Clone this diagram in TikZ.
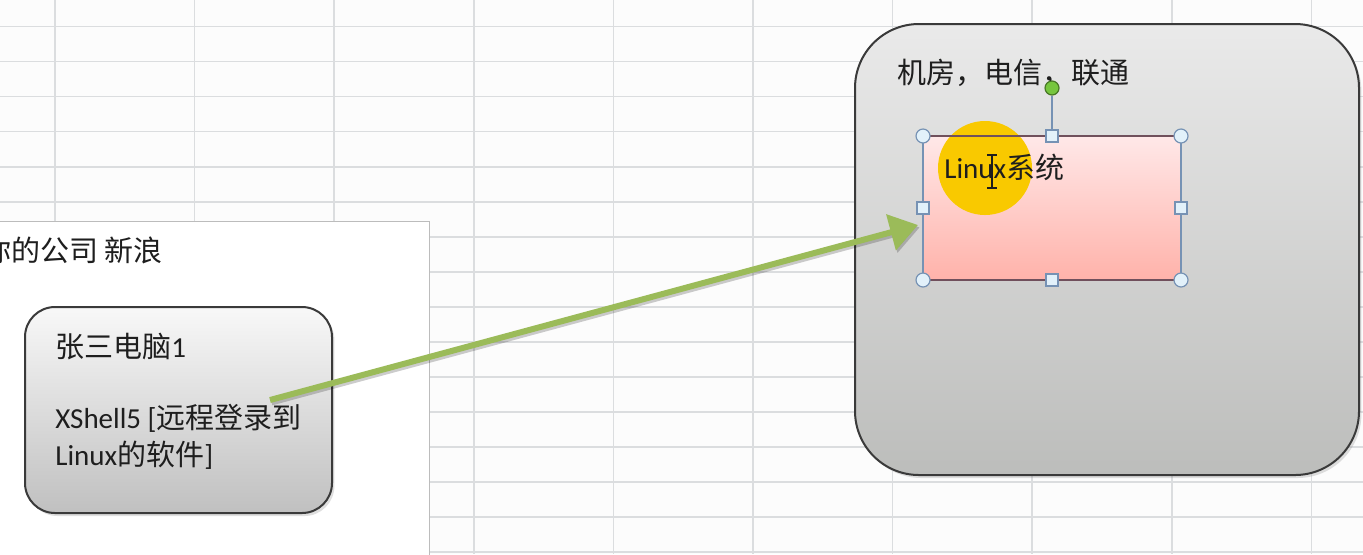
\documentclass[tikz,border=0pt]{standalone}
\usepackage{fontspec}
\usepackage{tikz}
\usetikzlibrary{arrows.meta,shadows}
\setmainfont{Carlito}
\newfontfamily\cjk{Noto Sans CJK SC}
\definecolor{grade}{RGB}{219,221,223}
\definecolor{fundo}{RGB}{252,252,252}
\definecolor{bordaempresa}{RGB}{188,188,188}
\definecolor{borda}{RGB}{58,58,58}
\definecolor{pctopo}{RGB}{248,248,248}
\definecolor{pcbase}{RGB}{192,192,192}
\definecolor{salatopo}{RGB}{234,234,234}
\definecolor{salabase}{RGB}{188,189,187}
\definecolor{rosatopo}{RGB}{255,232,232}
\definecolor{rosabase}{RGB}{255,178,170}
\definecolor{bordarosa}{RGB}{112,80,92}
\definecolor{selecao}{RGB}{118,146,180}
\definecolor{verde}{RGB}{155,187,89}
\definecolor{amarelo}{RGB}{249,201,0}
\definecolor{alcafundo}{RGB}{226,241,250}
\definecolor{alcaverde}{RGB}{118,198,62}
\definecolor{texto}{RGB}{30,30,30}

\begin{document}
\begin{tikzpicture}[x=0.5pt,y=-0.5pt,
		caixa/.style={draw=borda, line width=1pt, rounded corners=#1, inner sep=0pt, outer sep=0pt,
			drop shadow={shadow xshift=1.2pt, shadow yshift=-1.5pt, opacity=0.25}},
		rotulo/.style={anchor=west, inner sep=0pt, text=texto, align=left,
			font=\fontsize{14.5}{18.5}\selectfont},
		alca/.style={circle, draw=selecao, fill=alcafundo, line width=0.6pt, minimum size=7pt, inner sep=0pt},
		alcaq/.style={rectangle, draw=selecao, fill=alcafundo, line width=0.6pt, minimum size=6pt, inner sep=0pt},
		seta/.style={draw=verde, line width=3pt, -{Triangle[length=14pt,width=18pt]}}]
			%Fundo e grade
			\useasboundingbox (0,0) rectangle (1363,554);
			\clip (0,0) rectangle (1363,554);
			\fill[fundo] (0,0) rectangle (1363,554);
			\foreach \i in {0,...,9}
				\draw[grade, line width=0.8pt] (55+139.6*\i,0) -- (55+139.6*\i,554);
			\foreach \j in {0,...,15}
				\draw[grade, line width=0.8pt] (0,26.5+35.05*\j) -- (1363,26.5+35.05*\j);
			
			%Empresa
			\node[draw=bordaempresa, fill=white, line width=0.5pt, minimum width=217pt, minimum height=170pt, inner sep=0pt] (empresa) at (212,391) {};
			\node[rotulo] (empresatxt) at (-18,250) {\cjk 你的公司 新浪};
			
			%Computador
			\node[caixa=15pt, top color=pctopo, bottom color=pcbase, minimum width=153.5pt, minimum height=103pt] (pc) at (178.5,410) {};
			\node[rotulo] (pctitulo) at (55,347) {{\cjk 张三电脑}1};
			\node[rotulo] (pcsoft) at (55,437) {XShell5 [{\cjk 远程登录到}\\Linux{\cjk 的软件}]};
			
			%Sala de servidores
			\node[caixa=32pt, top color=salatopo, bottom color=salabase, minimum width=252pt, minimum height=225.5pt] (sala) at (1107,249.5) {};
			\node[rotulo] (salatxt) at (897,73) {\cjk 机房，电信，联通};
			
			%Linux (selecionado)
			\node[top color=rosatopo, bottom color=rosabase, minimum width=129pt, minimum height=72pt, inner sep=0pt, outer sep=0pt] (linux) at (1052,208) {};
			\fill[amarelo] (985,168) circle (47);
			\draw[bordarosa, line width=1pt] (linux.north west) -- (linux.north east);
			\draw[bordarosa, line width=1pt] (linux.south west) -- (linux.south east);
			\draw[selecao, line width=0.8pt] (linux.north west) -- (linux.south west);
			\draw[selecao, line width=0.8pt] (linux.north east) -- (linux.south east);
			\node[rotulo] (linuxtxt) at (944,167) {Linux{\cjk 系统}};
			\draw[texto, line width=0.6pt] (992,155) -- (992,188) (987,155) -- (997,155) (987,188) -- (997,188); %cursor
			
			%Alcas
			\node[alca, fill=alcaverde, draw=alcaverde!60!black] (giro) at (1052,88) {};
			\draw[selecao, line width=0.8pt] (giro) -- (linux.north);
			\foreach \a in {north west, north east, south west, south east}
				\node[alca] at (linux.\a) {};
			\foreach \a in {north, south, west, east}
				\node[alcaq] at (linux.\a) {};
			
			%Seta
			\coordinate (inicio) at (270,400);
			\coordinate (ponta) at (918,225);
			\draw[seta, draw=black, opacity=0.2, transform canvas={xshift=0.8pt,yshift=-1.2pt}] (inicio) -- (ponta);
			\draw[seta] (inicio) -- (ponta);
		\end{tikzpicture}
\end{document}
